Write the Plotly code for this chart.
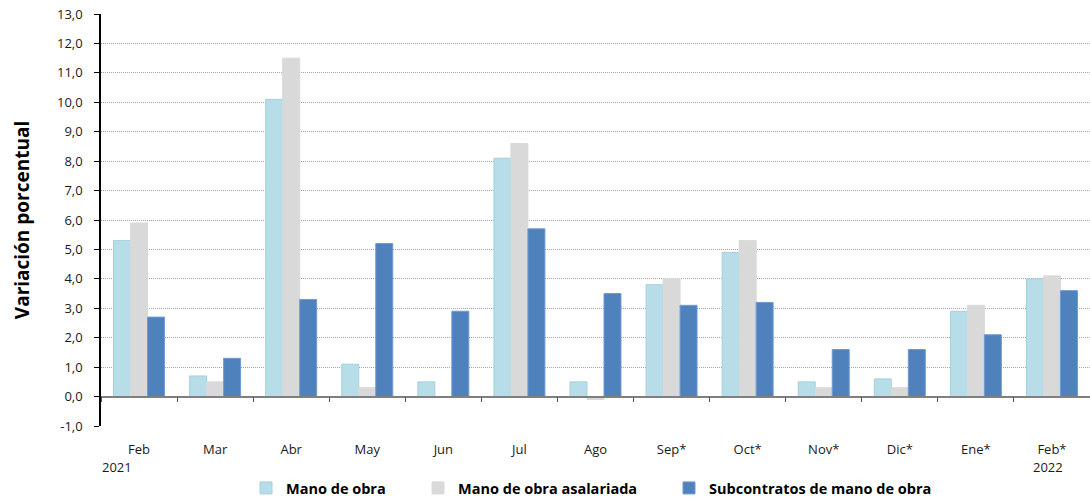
import plotly.graph_objects as go

categories = ["Feb", "Mar", "Abr", "May", "Jun", "Jul", "Ago", "Sep*", "Oct*", "Nov*", "Dic*", "Ene*", "Feb*"]
mano_obra = [5.3, 0.7, 10.1, 1.1, 0.5, 8.1, 0.5, 3.8, 4.9, 0.5, 0.6, 2.9, 4.0]
mano_obra_asalariada = [5.9, 0.5, 11.5, 0.3, 0.0, 8.6, -0.1, 4.0, 5.3, 0.3, 0.3, 3.1, 4.1]
subcontratos = [2.7, 1.3, 3.3, 5.2, 2.9, 5.7, 3.5, 3.1, 3.2, 1.6, 1.6, 2.1, 3.6]
year_labels = {"Feb": "2021", "Feb*": "2022"}
y_tick_vals = list(range(-1, 14))
y_tick_text = ["-1,0", "0,0", "1,0", "2,0", "3,0", "4,0", "5,0", "6,0", "7,0",
               "8,0", "9,0", "10,0", "11,0", "12,0", "13,0"]

FONT = "Open Sans"
W, H = 1090, 499
L, R, T, B = 101, 0, 14, 73
PW = W - L - R
PH = H - T - B


def px_to_paper(px):
    return (px - L) / PW


fig = go.Figure()
fig.add_trace(go.Bar(name="Mano de obra", x=categories, y=mano_obra, legend="legend",
                     marker=dict(color="#b7dde8", line=dict(color="#a5cfdd", width=1))))
fig.add_trace(go.Bar(name="Mano de obra asalariada", x=categories, y=mano_obra_asalariada,
                     legend="legend2",
                     marker=dict(color="#d9d9d9", line=dict(color="#d9d9d9", width=1))))
fig.add_trace(go.Bar(name="Subcontratos de mano de obra", x=categories, y=subcontratos,
                     legend="legend3",
                     marker=dict(color="#4f81bd", line=dict(color="#6f9bd3", width=1))))

# invisible trace to carry the zero-line axis
fig.add_trace(go.Scatter(x=categories, y=[None]*len(categories), xaxis="x2",
                         showlegend=False, hoverinfo="skip"))

for cat, yr in year_labels.items():
    fig.add_annotation(x=cat, y=0, xref="x", yref="paper", text=yr, showarrow=False,
                       yanchor="middle", yshift=-41,
                       xshift=-22 if cat == "Feb" else -4,
                       font=dict(family=FONT, size=13, color="#1a1a1a"))

leg_common = dict(orientation="h", yanchor="middle", y=-(488 - 426) / PH, xanchor="left",
                  font=dict(family=FONT, size=14.5, color="#000000", weight="bold"),
                  itemwidth=30, itemclick=False, bgcolor="rgba(0,0,0,0)")

fig.update_layout(
    width=W, height=H,
    margin=dict(l=L, r=R, t=T, b=B, autoexpand=False),
    paper_bgcolor="white", plot_bgcolor="white",
    barmode="group", bargap=0.33, bargroupgap=0,
    font=dict(family=FONT, size=13, color="#1a1a1a"),
    showlegend=True,
    legend=dict(x=px_to_paper(286 - 40), **leg_common),
    legend2=dict(x=px_to_paper(458 - 40), **leg_common),
    legend3=dict(x=px_to_paper(709 - 40), **leg_common),
    xaxis=dict(type="category", categoryorder="array", categoryarray=categories,
               range=[-0.5, 12.5], showline=False, showgrid=False, ticks="",
               automargin=False,
               tickfont=dict(family=FONT, size=13, color="#1a1a1a"), ticklabelstandoff=14),
    xaxis2=dict(type="category", categoryorder="array", categoryarray=categories,
                range=[-0.5, 12.5], overlaying="x", anchor="free", position=1/14,
                side="bottom", showline=True, linecolor="#7f7f7f", linewidth=1.5,
                ticks="outside", tickson="boundaries", ticklen=5, tickcolor="#555555",
                showticklabels=False, showgrid=False),
    yaxis=dict(range=[-1, 13], tickvals=y_tick_vals, ticktext=y_tick_text,
               automargin=False,
               showgrid=True, gridcolor="#a6a6a6", griddash="1px,1px", gridwidth=1,
               zeroline=False, showline=True, linecolor="#000000", linewidth=1.5,
               ticks="outside", ticklen=5, tickcolor="#000000", ticklabelstandoff=9,
               tickfont=dict(family=FONT, size=13, color="#1a1a1a"),
               title=dict(text="Variación porcentual", standoff=22,
                          font=dict(family=FONT, size=19, color="#000000", weight="bold"))),
)

fig.write_html("out.html", config={"displayModeBar": False},
               post_script="document.body.style.margin='0';document.body.style.overflow='hidden';")
